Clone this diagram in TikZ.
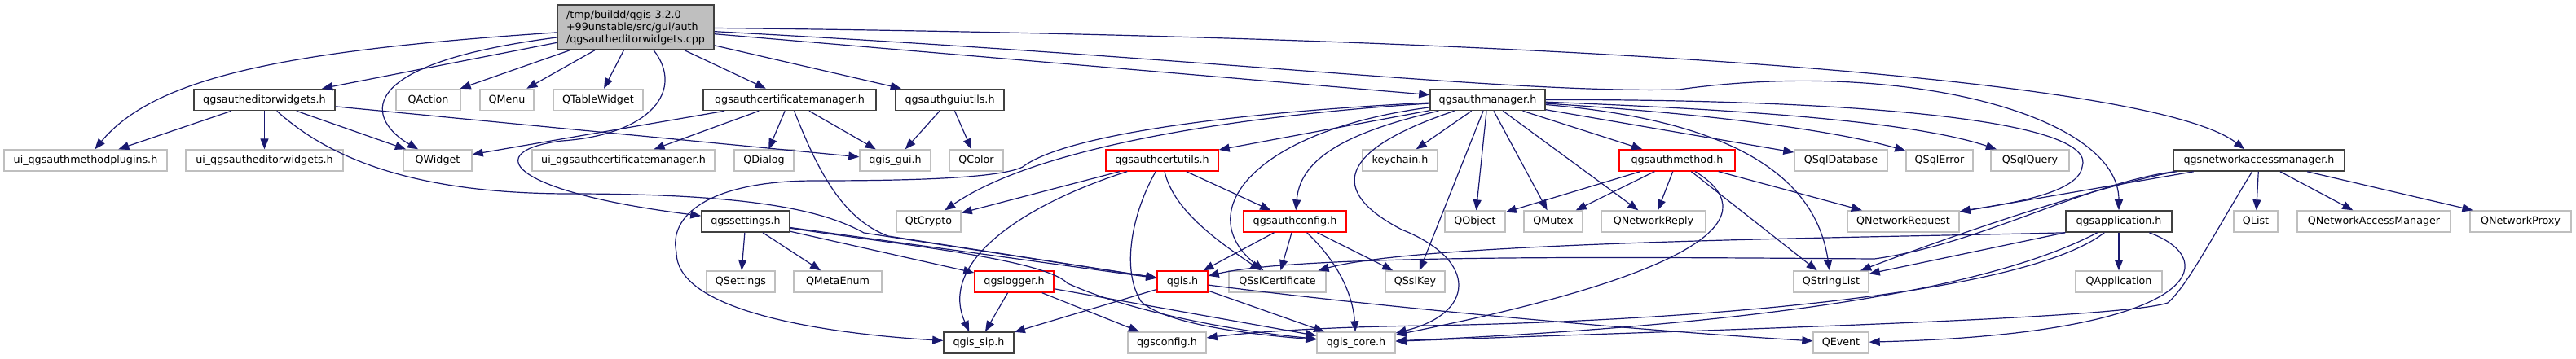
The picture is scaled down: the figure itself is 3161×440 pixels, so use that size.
\documentclass[tikz,border=0pt]{standalone}
\usepackage{fontspec}
\setmainfont{DejaVu Sans}
\usepackage{xcolor}
\usepackage{tikz}
\usetikzlibrary{arrows.meta}

\definecolor{edgeblue}{HTML}{191970}
\definecolor{extgray}{HTML}{BFBFBF}
\definecolor{boxline}{HTML}{404040}

\begin{document}
\begin{tikzpicture}[
    x = 1pt, y = -1pt,
    box/.style = {rectangle, fill=white, inner xsep=2pt, inner ysep=0pt, minimum height=26pt, text height=9.6pt, text depth=2pt, font=\fontsize{12.7}{15}\selectfont},
    filebox/.style = {box, draw=boxline, line width=1.6pt},
    extbox/.style = {box, draw=extgray, line width=1.4pt},
    cutbox/.style = {box, draw=red, line width=1.4pt},
    mainbox/.style = {rectangle, draw=boxline, fill=extgray, line width=1.6pt, align=left, minimum width=192pt, minimum height=55pt, font=\fontsize{12.7}{15}\selectfont},
    inc/.style = {draw=edgeblue, line width=1.2pt, -{Triangle[length=13pt, width=10pt]}}
]
    \useasboundingbox (0,0) rectangle (3161,440);

    \node [mainbox] (cppfile) at (780,33.5) {/tmp/buildd/qgis-3.2.0\\+99unstable/src/gui/auth\\/qgsautheditorwidgets.cpp};

    \node [filebox, minimum width=173pt] (editwidgets) at (324.5,122.5) {qgsautheditorwidgets.h};
    \node [extbox, minimum width=79pt] (qaction) at (525.5,122.5) {QAction};
    \node [extbox, minimum width=66pt] (qmenu) at (622,122.5) {QMenu};
    \node [extbox, minimum width=110pt] (tablewidget) at (734,122.5) {QTableWidget};
    \node [filebox, minimum width=212pt] (certmanager) at (969,122.5) {qgsauthcertificatemanager.h};
    \node [filebox, minimum width=133pt] (guiutils) at (1165.5,122.5) {qgsauthguiutils.h};
    \node [filebox, minimum width=141pt] (authmanager) at (1825.5,122.5) {qgsauthmanager.h};

    \node [extbox, minimum width=200pt] (uimethods) at (105,197) {ui\_qgsauthmethodplugins.h};
    \node [extbox, minimum width=193pt] (uieditwidgets) at (324.5,197) {ui\_qgsautheditorwidgets.h};
    \node [extbox, minimum width=84pt] (qwidget) at (537,197) {QWidget};
    \node [extbox, minimum width=224pt] (uicertmanager) at (765,197) {ui\_qgsauthcertificatemanager.h};
    \node [extbox, minimum width=73pt] (qdialog) at (937.5,197) {QDialog};
    \node [extbox, minimum width=87pt] (qgisgui) at (1098.5,197) {qgis\_gui.h};
    \node [extbox, minimum width=66pt] (qcolor) at (1198,197) {QColor};
    \node [cutbox, minimum width=138pt] (certutils) at (1426,197) {qgsauthcertutils.h};
    \node [extbox, minimum width=92pt] (keychain) at (1718,197) {keychain.h};
    \node [cutbox, minimum width=142pt] (authmethod) at (2058,197) {qgsauthmethod.h};
    \node [extbox, minimum width=114pt] (sqldb) at (2259,197) {QSqlDatabase};
    \node [extbox, minimum width=82pt] (sqlerror) at (2380,197) {QSqlError};
    \node [extbox, minimum width=96pt] (sqlquery) at (2491,197) {QSqlQuery};
    \node [filebox, minimum width=210pt] (netmanager) at (2772,197) {qgsnetworkaccessmanager.h};

    \node [filebox, minimum width=108pt] (settings) at (915,272) {qgssettings.h};
    \node [extbox, minimum width=79pt] (qtcrypto) at (1139.5,272) {QtCrypto};
    \node [cutbox, minimum width=126pt] (authconfig) at (1589,272) {qgsauthconfig.h};
    \node [extbox, minimum width=74pt] (qobject) at (1810,272) {QObject};
    \node [extbox, minimum width=72pt] (qmutex) at (1906,272) {QMutex};
    \node [extbox, minimum width=128pt] (netreply) at (2029,272) {QNetworkReply};
    \node [extbox, minimum width=137pt] (netrequest) at (2335.5,272) {QNetworkRequest};
    \node [filebox, minimum width=130pt] (application) at (2600,272) {qgsapplication.h};
    \node [extbox, minimum width=54pt] (qlist) at (2768,272) {QList};
    \node [extbox, minimum width=188pt] (qnam) at (2913,272) {QNetworkAccessManager};
    \node [extbox, minimum width=124pt] (netproxy) at (3093,272) {QNetworkProxy};

    \node [extbox, minimum width=84pt] (qsettings) at (909,346) {QSettings};
    \node [extbox, minimum width=108pt] (metaenum) at (1028,346) {QMetaEnum};
    \node [cutbox, minimum width=97pt] (logger) at (1244.5,346) {qgslogger.h};
    \node [cutbox, minimum width=62pt] (qgis) at (1451,346) {qgis.h};
    \node [extbox, minimum width=119pt] (sslcert) at (1567.5,346) {QSslCertificate};
    \node [extbox, minimum width=73pt] (sslkey) at (1736.5,346) {QSslKey};
    \node [extbox, minimum width=92pt] (stringlist) at (2247,346) {QStringList};
    \node [extbox, minimum width=106pt] (qapplication) at (2600,346) {QApplication};

    \node [filebox, minimum width=86pt] (qgissip) at (1201,421) {qgis\_sip.h};
    \node [extbox, minimum width=96pt] (qgsconfig) at (1432,421) {qgsconfig.h};
    \node [extbox, minimum width=96pt] (qgiscore) at (1664,421) {qgis\_core.h};
    \node [extbox, minimum width=68pt] (qevent) at (2259,421) {QEvent};

    \path [inc] (cppfile) .. controls (350,62) and (190,95) .. (uimethods);
    \path [inc] (cppfile) -- (editwidgets);
    \path [inc] (cppfile) .. controls (420,80) and (455,150) .. (qwidget);
    \path [inc] (cppfile) -- (qaction);
    \path [inc] (cppfile) -- (qmenu);
    \path [inc] (cppfile) -- (tablewidget);
    \path [inc] (cppfile) .. controls (840,110) and (800,165) .. (690,173) .. controls (590,185) and (620,235) .. (settings);
    \path [inc] (cppfile) -- (certmanager);
    \path [inc] (cppfile) -- (guiutils);
    \path [inc] (cppfile) -- (authmanager);
    \path [inc] (cppfile) .. controls (1900,45) and (2640,95) .. (netmanager);
    \path [inc] (cppfile) .. controls (1500,72) and (1850,115) .. (2060,110) .. controls (2330,72) and (2600,140) .. (application);

    \path [inc] (editwidgets) -- (uimethods);
    \path [inc] (editwidgets) -- (uieditwidgets);
    \path [inc] (editwidgets) -- (qwidget);
    \path [inc] (editwidgets) -- (qgisgui);
    \path [inc] (editwidgets) .. controls (410,200) and (520,238) .. (700,238) .. controls (920,238) and (1010,258) .. (1060,286) -- (qgis);

    \path [inc] (certmanager) -- (qwidget);
    \path [inc] (certmanager) -- (uicertmanager);
    \path [inc] (certmanager) -- (qdialog);
    \path [inc] (certmanager) -- (qgisgui);
    \path [inc] (certmanager) .. controls (1000,200) and (1030,268) .. (1090,290) -- (qgis);

    \path [inc] (guiutils) -- (qgisgui);
    \path [inc] (guiutils) -- (qcolor);

    \path [inc] (settings) -- (qsettings);
    \path [inc] (settings) -- (metaenum);
    \path [inc] (settings) -- (logger);
    \path [inc] (settings) -- (qgis);
    \path [inc] (settings) .. controls (1100,300) and (1280,318) .. (1310,348) .. controls (1380,380) and (1500,405) .. (qgiscore);

    \path [inc] (authmanager) .. controls (1550,140) and (1280,175) .. (qtcrypto);
    \path [inc] (authmanager) .. controls (1480,140) and (1300,170) .. (1255,205) .. controls (1225,220) and (1100,222) .. (1000,222) .. controls (870,222) and (820,265) .. (830,310) .. controls (830,390) and (1050,412) .. (qgissip);
    \path [inc] (authmanager) -- (certutils);
    \path [inc] (authmanager) .. controls (1540,160) and (1460,260) .. (sslcert);
    \path [inc] (authmanager) .. controls (1640,165) and (1595,200) .. (authconfig);
    \path [inc] (authmanager) .. controls (1640,185) and (1630,235) .. (1720,282) .. controls (1815,320) and (1810,385) .. (qgiscore);
    \path [inc] (authmanager) -- (keychain);
    \path [inc] (authmanager) -- (sslkey);
    \path [inc] (authmanager) -- (qobject);
    \path [inc] (authmanager) -- (qmutex);
    \path [inc] (authmanager) -- (netreply);
    \path [inc] (authmanager) -- (authmethod);
    \path [inc] (authmanager) -- (sqldb);
    \path [inc] (authmanager) .. controls (2100,140) and (2250,160) .. (sqlerror);
    \path [inc] (authmanager) .. controls (2150,135) and (2350,150) .. (sqlquery);
    \path [inc] (authmanager) .. controls (2150,150) and (2230,230) .. (stringlist);
    \path [inc] (authmanager) .. controls (2300,122) and (2575,150) .. (2555,205) .. controls (2550,240) and (2450,252) .. (netrequest);

    \path [inc] (certutils) -- (qtcrypto);
    \path [inc] (certutils) .. controls (1260,250) and (1150,320) .. ([xshift=32pt]qgissip.north west);
    \path [inc] (certutils) .. controls (1390,260) and (1375,330) .. (1400,370) .. controls (1430,400) and (1550,412) .. (qgiscore);
    \path [inc] (certutils) .. controls (1440,260) and (1500,300) .. (sslcert);
    \path [inc] (certutils) -- (authconfig);

    \path [inc] (authconfig) -- (qgis);
    \path [inc] (authconfig) -- (sslcert);
    \path [inc] (authconfig) -- (sslkey);
    \path [inc] (authconfig) .. controls (1640,320) and (1660,360) .. (qgiscore);

    \path [inc] (authmethod) -- (qobject);
    \path [inc] (authmethod) -- (qmutex);
    \path [inc] (authmethod) -- (netreply);
    \path [inc] (authmethod) -- (netrequest);
    \path [inc] (authmethod) -- (stringlist);
    \path [inc] (authmethod) .. controls (2160,260) and (2120,330) .. (qgiscore);

    \path [inc] (netmanager) -- (qlist);
    \path [inc] (netmanager) -- (qnam);
    \path [inc] (netmanager) -- (netproxy);
    \path [inc] (netmanager) -- (netrequest);
    \path [inc] (netmanager) .. controls (2640,215) and (2500,250) .. (stringlist);
    \path [inc] (netmanager) .. controls (2560,225) and (2430,300) .. (2300,318) .. controls (2000,316) and (1600,312) .. (qgis);
    \path [inc] (netmanager) .. controls (2715,290) and (2685,350) .. (2660,372) .. controls (2600,392) and (2100,405) .. (qgiscore);

    \path [inc] (application) -- (qapplication);
    \path [inc] (application) -- (stringlist);
    \path [inc] (application.south west) .. controls (2300,292) and (1750,296) .. (sslcert);
    \path [inc] (application) .. controls (2470,340) and (2250,395) .. (qgiscore);
    \path [inc] (application) .. controls (2480,365) and (2050,395) .. (1750,400) .. controls (1600,402) and (1520,410) .. (qgsconfig);
    \path [inc] (application) .. controls (2730,320) and (2700,410) .. (qevent);

    \path [inc] (logger) -- (qgissip);
    \path [inc] (logger) -- (qgsconfig);
    \path [inc] (logger) -- (qgiscore);

    \path [inc] (qgis) -- (qgissip);
    \path [inc] (qgis) -- (qgiscore);
    \path [inc] (qgis) .. controls (1700,378) and (2000,405) .. (qevent);
\end{tikzpicture}
\end{document}
